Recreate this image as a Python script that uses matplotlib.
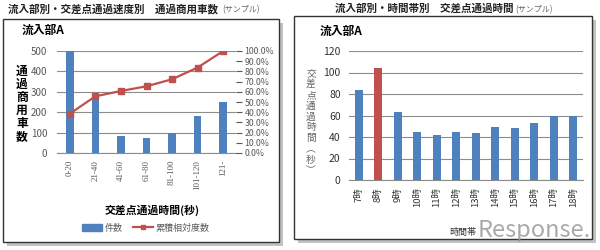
import matplotlib.pyplot as plt
from matplotlib.patches import Rectangle
from matplotlib.lines import Line2D

plt.rcParams['font.family'] = ['Noto Sans CJK JP', 'DejaVu Sans']

# left chart data
speed_cats = ['0-20', '21-40', '41-60', '61-80', '81-100', '101-120', '121-']
counts = [500, 277, 82, 72, 100, 183, 252]
cum_rel = [0.385, 0.556, 0.608, 0.654, 0.723, 0.838, 1.0]

# right chart data
hours = ['7時', '8時', '9時', '10時', '11時', '12時', '13時', '14時', '15時', '16時', '17時', '18時']
pass_time = [84, 104, 63, 45, 42, 45, 44, 49, 48, 53, 60, 60]
highlight = '8時'

W, H = 600, 250
BLUE = '#4F81BD'
RED = '#C0504D'
GRID = '#8c8c8c'
TXT = '#595959'


def rect(x0, y0, x1, y1):
    return [x0 / W, 1 - y1 / H, (x1 - x0) / W, (y1 - y0) / H]


def fx(x):
    return x / W


def fy(y):
    return 1 - y / H


fig = plt.figure(figsize=(6, 2.5), dpi=100)
fig.patch.set_facecolor('white')

# panel frames with shadow
for (x0, y0, x1, y1) in [(3, 19, 279, 242), (294, 16, 592, 239)]:
    fig.patches.append(Rectangle((fx(x0 + 4), fy(y1 + 4)), (x1 - x0) / W, (y1 - y0) / H,
                                 transform=fig.transFigure, facecolor='#9a9a9a',
                                 edgecolor='none', alpha=0.6, zorder=0))
    fig.patches.append(Rectangle((fx(x0), fy(y1)), (x1 - x0) / W, (y1 - y0) / H,
                                 transform=fig.transFigure, facecolor='white',
                                 edgecolor='#333333', linewidth=1.0, zorder=1))

# titles
fig.text(fx(8), fy(9), '流入部別・交差点通過速度別　通過商用車数', fontsize=7.6,
         fontweight='bold', color='#222222', va='center', ha='left')
fig.text(fx(222), fy(9.5), '(サンプル)', fontsize=5.8, color='#666666', va='center', ha='left')
fig.text(fx(335), fy(9), '流入部別・時間帯別　交差点通過時間', fontsize=7.6,
         fontweight='bold', color='#222222', va='center', ha='left')
fig.text(fx(515), fy(9.5), '(サンプル)', fontsize=5.8, color='#666666', va='center', ha='left')

# ---- left chart
ax = fig.add_axes(rect(57, 51, 236, 153))
ax.set_zorder(2)
x = list(range(len(speed_cats)))
ax.bar(x, counts, width=0.3, color=BLUE, zorder=3)
ax.set_ylim(0, 500)
ax.set_yticks(range(0, 501, 100))
ax.set_xlim(-0.5, len(speed_cats) - 0.5)
ax.set_xticks(x)
ax.set_xticklabels(speed_cats, rotation=90, fontsize=6.5, family='Liberation Serif', color=TXT)
ax.tick_params(axis='y', labelsize=7, colors=TXT, length=0, pad=7)
ax.tick_params(axis='x', length=0, pad=5)
ax.grid(axis='y', color=GRID, linewidth=0.8, zorder=0)
for s in ['top', 'left', 'right']:
    ax.spines[s].set_visible(False)
ax.spines['bottom'].set_color(GRID)
ax.patch.set_alpha(0)

ax2 = ax.twinx()
ax2.plot(x, cum_rel, color=RED, marker='s', markersize=4, linewidth=1.6, zorder=4)
ax2.set_ylim(0, 1.0)
ax2.set_yticks([i / 10 for i in range(11)])
ax2.set_yticklabels(['%.1f%%' % (i * 10) for i in range(11)])
ax2.tick_params(axis='y', labelsize=6.3, colors=TXT, length=4, pad=2)
for s in ['top', 'left', 'right', 'bottom']:
    ax2.spines[s].set_visible(False)

fig.text(fx(22), fy(30), '流入部A', fontsize=8.5, fontweight='bold', va='center', ha='left')
fig.text(fx(22), fy(104), '\n'.join('通過商用車数'), fontsize=8.5, fontweight='bold',
         va='center', ha='center', linespacing=1.0)
fig.text(fx(152), fy(210), '交差点通過時間(秒)', fontsize=7.8, fontweight='bold',
         va='center', ha='center')

handles = [Rectangle((0, 0), 1, 1, color=BLUE),
           Line2D([0], [0], color=RED, marker='s', markersize=3.5, linewidth=1.6)]
fig.legend(handles, ['件数', '累積相対度数'], loc='center', bbox_to_anchor=(fx(146), fy(228)),
           ncol=2, frameon=False, fontsize=6.5, handlelength=2.2, handletextpad=0.3,
           columnspacing=1.2, labelcolor=TXT)

# ---- right chart
bx = fig.add_axes(rect(349, 51, 583, 180))
bx.set_zorder(2)
xr = list(range(len(hours)))
colors = [RED if h == highlight else BLUE for h in hours]
bx.bar(xr, pass_time, width=0.4, color=colors, zorder=3)
bx.set_ylim(0, 120)
bx.set_yticks(range(0, 121, 20))
bx.set_xlim(-0.5, len(hours) - 0.5)
bx.set_xticks(xr)
bx.set_xticklabels(hours, rotation=90, fontsize=6.8, color='#333333')
bx.tick_params(axis='y', labelsize=7.5, colors='#333333', length=0, pad=6)
bx.tick_params(axis='x', length=0, pad=5)
bx.grid(axis='y', color=GRID, linewidth=0.8, zorder=0)
for s in ['top', 'left', 'right']:
    bx.spines[s].set_visible(False)
bx.spines['bottom'].set_color(GRID)
bx.patch.set_alpha(0)

fig.text(fx(320), fy(31), '流入部A', fontsize=8.5, fontweight='bold', va='center', ha='left')
fig.text(fx(311), fy(122), '\n'.join(['交', '差', '点', '通', '過', '時', '間', '︵', '秒', '︶']),
         fontsize=7, color='#666666', va='center', ha='center', linespacing=1.1)
fig.text(fx(463), fy(232), '時間帯', fontsize=6.5, color='#333333', va='center', ha='center', zorder=3)
fig.text(fx(591), fy(231), 'Response.', fontsize=17, color='#9a9a9a', alpha=0.85,
         va='center', ha='right', zorder=4)

fig.savefig('out.png', dpi=100)
